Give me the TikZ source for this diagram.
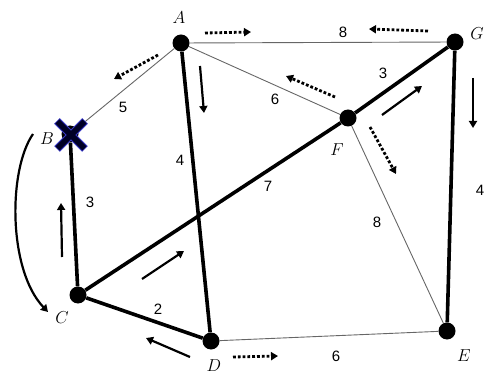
\documentclass[tikz,border=0pt]{standalone}
\usepackage{fontspec}
\newfontfamily\numfont{Liberation Sans}
\usetikzlibrary{arrows.meta, positioning, calc}

\begin{document}
\begin{tikzpicture}[
    x=1pt, y=-1pt,
    vtx/.style={circle, fill=black, minimum size=17pt, inner sep=0pt},
    vname/.style={font=\fontsize{19}{19}\selectfont},
    wlbl/.style={font=\fontsize{15}{15}\selectfont\numfont, inner sep=1pt},
    thin edge/.style={draw=black!60, line width=0.9pt},
    thick edge/.style={draw=black, line width=3.6pt},
    step arrow/.style={-{Triangle[length=7pt, width=8pt]}, line width=2.2pt},
    dot arrow/.style={-{Triangle[length=7pt, width=8pt]}, line width=2.8pt,
                      dash pattern=on 2.8pt off 2pt}
]
    \useasboundingbox (0,0) rectangle (484,379);

    % vertices
    \node[vtx] (A) at (181,43) {};
    \node[vtx] (G) at (455,42) {};
    \node[vtx] (B) at (70,134) {};
    \node[vtx] (F) at (348,118) {};
    \node[vtx] (C) at (78,295) {};
    \node[vtx] (D) at (211,341) {};
    \node[vtx] (E) at (447,331) {};

    \node[vname] at (179,18) {$A$};
    \node[vname] at (477,34) {$G$};
    \node[vname] at (47,139) {$B$};
    \node[vname] at (337,150) {$F$};
    \node[vname] at (62,318) {$C$};
    \node[vname] at (214,366) {$D$};
    \node[vname] at (464,356) {$E$};

    % edges
    \draw[thin edge] (A) -- (G);
    \draw[thin edge] (A) -- (B);
    \draw[thin edge] (A) -- (F);
    \draw[thin edge] (D) -- (E);
    \draw[thin edge] (F) -- (E);
    \draw[thick edge] (A) -- (D);
    \draw[thick edge] (B) -- (C);
    \draw[thick edge] (C) -- (F) -- (G);
    \draw[thick edge] (C) -- (D);
    \draw[thick edge] (G) -- (E);

    % weights
    \node[wlbl] at (343,32) {8};
    \node[wlbl] at (123,107) {5};
    \node[wlbl] at (275,99) {6};
    \node[wlbl] at (383,73) {3};
    \node[wlbl] at (180,160) {4};
    \node[wlbl] at (268,186) {7};
    \node[wlbl] at (90,202) {3};
    \node[wlbl] at (377,222) {8};
    \node[wlbl] at (480,190) {4};
    \node[wlbl] at (158,309) {2};
    \node[wlbl] at (336,356) {6};

    % crossed out vertex
    \draw[draw=blue!55!gray, line width=8pt] (57,121) -- (85,149) (57,149) -- (85,121);
    \draw[draw=blue!15!black, line width=6pt] (57.5,121.5) -- (84.5,148.5) (57.5,148.5) -- (84.5,121.5);

    % solid arrows
    \draw[step arrow] (200,66) -- (204,113);
    \draw[step arrow] (473,78) -- (473,128);
    \draw[step arrow] (382,115) -- (422,86);
    \draw[step arrow] (62,257) -- (61,203);
    \draw[step arrow] (142,279) -- (184,251);
    \draw[step arrow] (190,357) -- (146,338);
    \draw[step arrow] (33,134) .. controls (8,170) and (8,270) .. (48,312);

    % dotted arrows
    \draw[dot arrow] (205,33) -- (251,32);
    \draw[dot arrow] (428,31) -- (369,29);
    \draw[dot arrow] (335,97) -- (286,76);
    \draw[dot arrow] (370,127) -- (396,174);
    \draw[dot arrow] (158,55) -- (114,79);
    \draw[dot arrow] (233,357) -- (278,356);
\end{tikzpicture}
\end{document}
